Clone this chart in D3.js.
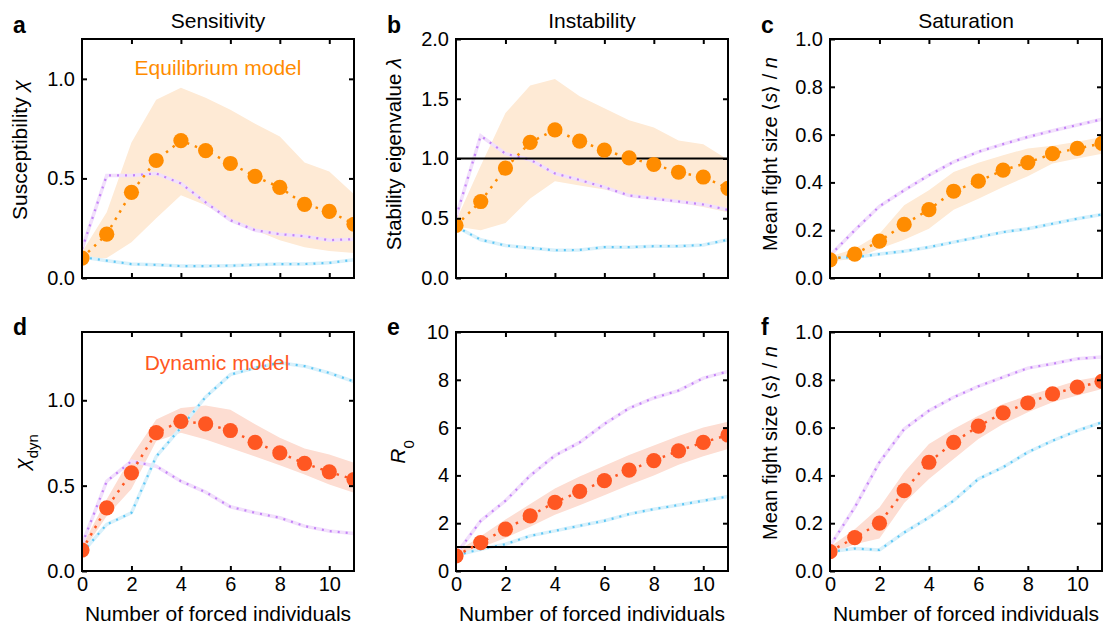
<!DOCTYPE html>
<html>
<head>
<meta charset="utf-8">
<script src="https://cdn.jsdelivr.net/npm/d3@7"></script>
<style>
  body { margin: 0; background: #fff; }
  svg text { font-family: "Liberation Sans", Arial, Helvetica, sans-serif; }
</style>
</head>
<body>
<svg id="chart" width="1104" height="625"></svg>
<script>
// number of forced individuals
const forced = [0, 1, 2, 3, 4, 5, 6, 7, 8, 9, 10, 11];

// a - sensitivity, equilibrium model
const aMean   = [0.10, 0.22, 0.43, 0.59, 0.69, 0.64, 0.575, 0.51, 0.455, 0.37, 0.335, 0.27];
const aLow    = [0.09, 0.10, 0.18, 0.30, 0.415, 0.365, 0.29, 0.24, 0.19, 0.155, 0.135, 0.125];
const aHigh   = [0.13, 0.33, 0.68, 0.895, 0.955, 0.905, 0.845, 0.775, 0.71, 0.58, 0.535, 0.42];
const aPurple = [0.145, 0.515, 0.515, 0.525, 0.475, 0.38, 0.29, 0.24, 0.22, 0.21, 0.19, 0.195];
const aCyan   = [0.105, 0.087, 0.07, 0.066, 0.06, 0.06, 0.062, 0.066, 0.07, 0.07, 0.076, 0.092];

// b - instability, equilibrium model
const bMean   = [0.44, 0.64, 0.92, 1.135, 1.24, 1.145, 1.07, 1.005, 0.95, 0.885, 0.845, 0.75];
const bLow    = [0.43, 0.40, 0.46, 0.665, 0.81, 0.775, 0.74, 0.69, 0.66, 0.63, 0.595, 0.55];
const bHigh   = [0.48, 0.94, 1.38, 1.61, 1.665, 1.52, 1.42, 1.32, 1.26, 1.15, 1.12, 0.99];
const bPurple = [0.51, 1.19, 1.04, 0.99, 0.875, 0.82, 0.76, 0.69, 0.665, 0.64, 0.615, 0.57];
const bCyan   = [0.43, 0.32, 0.272, 0.252, 0.232, 0.235, 0.258, 0.258, 0.266, 0.266, 0.277, 0.32];

// c - saturation, equilibrium model
const cMean   = [0.076, 0.10, 0.154, 0.224, 0.286, 0.363, 0.405, 0.451, 0.483, 0.52, 0.542, 0.563];
const cLow    = [0.07, 0.08, 0.122, 0.16, 0.206, 0.286, 0.332, 0.381, 0.426, 0.479, 0.50, 0.52];
const cHigh   = [0.09, 0.122, 0.185, 0.304, 0.367, 0.444, 0.482, 0.514, 0.542, 0.553, 0.57, 0.59];
const cPurple = [0.094, 0.20, 0.30, 0.367, 0.43, 0.486, 0.528, 0.56, 0.59, 0.616, 0.64, 0.664];
const cCyan   = [0.084, 0.087, 0.10, 0.112, 0.129, 0.15, 0.171, 0.192, 0.206, 0.227, 0.248, 0.266];

// d - sensitivity, dynamic model
const dMean   = [0.123, 0.37, 0.575, 0.81, 0.877, 0.862, 0.823, 0.754, 0.692, 0.63, 0.581, 0.536];
const dLow    = [0.107, 0.322, 0.48, 0.76, 0.81, 0.77, 0.72, 0.67, 0.62, 0.565, 0.507, 0.458];
const dHigh   = [0.146, 0.42, 0.67, 0.887, 0.955, 0.97, 0.945, 0.86, 0.78, 0.717, 0.682, 0.634];
const dPurple = [0.156, 0.526, 0.643, 0.614, 0.526, 0.462, 0.376, 0.341, 0.312, 0.263, 0.234, 0.22];
const dCyan   = [0.107, 0.273, 0.341, 0.67, 0.84, 1.02, 1.15, 1.19, 1.22, 1.2, 1.16, 1.11];

// e - instability, dynamic model
const eMean   = [0.63, 1.19, 1.75, 2.31, 2.87, 3.33, 3.78, 4.22, 4.62, 5.03, 5.38, 5.69];
const eLow    = [0.55, 0.98, 1.38, 1.85, 2.35, 2.75, 3.17, 3.6, 4.0, 4.45, 4.8, 5.1];
const eHigh   = [0.80, 1.45, 2.15, 2.8, 3.45, 3.95, 4.4, 4.85, 5.25, 5.65, 6.0, 6.25];
const ePurple = [0.70, 2.1, 2.94, 3.99, 4.83, 5.38, 6.15, 6.81, 7.24, 7.55, 8.07, 8.35];
const eCyan   = [0.66, 0.91, 1.12, 1.47, 1.68, 1.89, 2.1, 2.38, 2.59, 2.76, 2.94, 3.12];

// f - saturation, dynamic model
const fMean   = [0.081, 0.14, 0.20, 0.336, 0.455, 0.538, 0.606, 0.662, 0.703, 0.741, 0.769, 0.793];
const fLow    = [0.07, 0.112, 0.136, 0.284, 0.385, 0.469, 0.552, 0.615, 0.664, 0.706, 0.734, 0.762];
const fHigh   = [0.10, 0.175, 0.266, 0.413, 0.531, 0.594, 0.65, 0.699, 0.734, 0.765, 0.797, 0.815];
const fPurple = [0.105, 0.266, 0.455, 0.594, 0.671, 0.727, 0.773, 0.811, 0.849, 0.867, 0.888, 0.895];
const fCyan   = [0.08, 0.094, 0.088, 0.161, 0.224, 0.294, 0.385, 0.434, 0.497, 0.545, 0.587, 0.622];

const xTicks = [2, 4, 6, 8, 10];
const xTickLabels = [0, 2, 4, 6, 8, 10];

const eqColor = "#ff8c00", eqBand = "#feead5";
const dynColor = "#ff5722", dynBand = "#fdddd2";

const panels = [
  {id: "a", left: 82,  top: 39,  ymax: 1.2, yticks: [0, 0.5, 1.0], fmt: ".1f", mean: aMean, low: aLow, high: aHigh, purple: aPurple, cyan: aCyan, dot: eqColor, band: eqBand, title: "Sensitivity"},
  {id: "b", left: 456, top: 39,  ymax: 2.0, yticks: [0, 0.5, 1.0, 1.5, 2.0], fmt: ".1f", mean: bMean, low: bLow, high: bHigh, purple: bPurple, cyan: bCyan, dot: eqColor, band: eqBand, title: "Instability", hline: 1},
  {id: "c", left: 830, top: 39,  ymax: 1.0, yticks: [0, 0.2, 0.4, 0.6, 0.8, 1.0], fmt: ".1f", mean: cMean, low: cLow, high: cHigh, purple: cPurple, cyan: cCyan, dot: eqColor, band: eqBand, title: "Saturation"},
  {id: "d", left: 82,  top: 332, ymax: 1.4, yticks: [0, 0.5, 1.0], fmt: ".1f", mean: dMean, low: dLow, high: dHigh, purple: dPurple, cyan: dCyan, dot: dynColor, band: dynBand, bottomRow: true},
  {id: "e", left: 456, top: 332, ymax: 10, yticks: [0, 2, 4, 6, 8, 10], fmt: "d", mean: eMean, low: eLow, high: eHigh, purple: ePurple, cyan: eCyan, dot: dynColor, band: dynBand, bottomRow: true, hline: 1},
  {id: "f", left: 830, top: 332, ymax: 1.0, yticks: [0, 0.2, 0.4, 0.6, 0.8, 1.0], fmt: ".1f", mean: fMean, low: fLow, high: fHigh, purple: fPurple, cyan: fCyan, dot: dynColor, band: dynBand, bottomRow: true}
];

const plotW = 272;
const plotH = 239;

let svg = d3.select("#chart");

panels.forEach(function(p) {
  let x = d3.scaleLinear().domain([0, 11]).range([0, plotW]);
  let y = d3.scaleLinear().domain([0, p.ymax]).range([plotH, 0]);

  let g = svg.append("g")
      .attr("transform", "translate(" + p.left + "," + p.top + ")");

  g.append("clipPath")
      .attr("id", "clip-" + p.id)
    .append("rect")
      .attr("width", plotW)
      .attr("height", plotH);

  let plot = g.append("g").attr("clip-path", "url(#clip-" + p.id + ")");

  let rows = forced.map(function(v, i) {
    return {x: v, mean: p.mean[i], low: p.low[i], high: p.high[i], purple: p.purple[i], cyan: p.cyan[i]};
  });

  // uncertainty band
  plot.append("path")
      .datum(rows)
      .attr("fill", p.band)
      .attr("d", d3.area()
          .x(function(d) { return x(d.x); })
          .y0(function(d) { return y(d.low); })
          .y1(function(d) { return y(d.high); }));

  // purple and cyan reference curves: faint line with dots on top
  [["purple", "#f2e0fc", "#c383f7"], ["cyan", "#d9f1fb", "#5cc6f4"]].forEach(function(s) {
    let line = d3.line()
        .x(function(d) { return x(d.x); })
        .y(function(d) { return y(d[s[0]]); });
    plot.append("path")
        .datum(rows)
        .attr("fill", "none")
        .attr("stroke", s[1])
        .attr("stroke-width", 3.5)
        .attr("d", line);
    plot.append("path")
        .datum(rows)
        .attr("fill", "none")
        .attr("stroke", s[2])
        .attr("stroke-width", 2.2)
        .attr("stroke-dasharray", "2,6")
        .attr("d", line);
  });

  if (p.hline !== undefined) {
    plot.append("line")
        .attr("x1", 0)
        .attr("x2", plotW)
        .attr("y1", y(p.hline))
        .attr("y2", y(p.hline))
        .attr("stroke", "#000")
        .attr("stroke-width", 2);
  }

  // mean: dotted line + big dots
  plot.append("path")
      .datum(rows)
      .attr("fill", "none")
      .attr("stroke", p.dot)
      .attr("stroke-width", 2.5)
      .attr("stroke-dasharray", "2.5,6")
      .attr("d", d3.line()
          .x(function(d) { return x(d.x); })
          .y(function(d) { return y(d.mean); }));

  plot.selectAll("circle")
      .data(rows)
      .enter()
      .append("circle")
        .attr("cx", function(d) { return x(d.x); })
        .attr("cy", function(d) { return y(d.mean); })
        .attr("r", 7.6)
        .attr("fill", p.dot);

  // axes, ticks point inward
  let fmt = d3.format(p.fmt);
  let left = g.append("g")
      .call(d3.axisLeft(y).tickValues(p.yticks).tickFormat(fmt).tickSizeInner(-5).tickSizeOuter(0).tickPadding(7));
  let right = g.append("g")
      .attr("transform", "translate(" + plotW + ",0)")
      .call(d3.axisRight(y).tickValues(p.yticks.filter(function(v) { return v > 0 && v < p.ymax; })).tickFormat("").tickSizeInner(-5).tickSizeOuter(0));
  let top = g.append("g")
      .call(d3.axisTop(x).tickValues(xTicks).tickFormat("").tickSizeInner(-5).tickSizeOuter(0));
  let bottom = g.append("g")
      .attr("transform", "translate(0," + plotH + ")")
      .call(d3.axisBottom(x).tickValues(p.bottomRow ? xTickLabels : xTicks)
          .tickFormat(p.bottomRow ? d3.format("d") : "")
          .tickSizeInner(-5).tickSizeOuter(0).tickPadding(6));

  [left, right, top, bottom].forEach(function(a) {
    a.select(".domain").remove();
    a.selectAll("line").attr("stroke", "#000").attr("stroke-width", 2);
    a.selectAll("text").attr("fill", "#000").style("font-size", "20px");
  });
  bottom.selectAll(".tick line").filter(function(d) { return d === 0; }).remove();

  g.append("rect")
      .attr("width", plotW)
      .attr("height", plotH)
      .attr("fill", "none")
      .attr("stroke", "#000")
      .attr("stroke-width", 2);

  // panel letter
  g.append("text")
      .attr("x", -69)
      .attr("y", p.bottomRow ? 3 : -6)
      .style("font-size", "23px")
      .style("font-weight", "bold")
      .text(p.id);

  if (p.title) {
    g.append("text")
        .attr("x", plotW / 2)
        .attr("y", -11)
        .attr("text-anchor", "middle")
        .style("font-size", "21px")
        .text(p.title);
  }

  if (p.bottomRow) {
    g.append("text")
        .attr("x", plotW / 2)
        .attr("y", plotH + 50)
        .attr("text-anchor", "middle")
        .style("font-size", "21px")
        .text("Number of forced individuals");
  }
});

// y axis labels
function yLabel(cx, cy, parts, size) {
  let t = svg.append("text")
      .attr("transform", "translate(" + cx + "," + cy + ") rotate(-90)")
      .attr("text-anchor", "middle")
      .style("font-size", (size || 20) + "px");
  parts.forEach(function(s) {
    let ts = t.append("tspan").text(s.t);
    if (s.i) ts.style("font-style", "italic");
    if (s.sub) ts.attr("baseline-shift", "sub").style("font-size", "15px");
  });
  return t;
}

yLabel(27, 150, [{t: "Susceptibility "}, {t: "χ", i: true}], 21);
yLabel(401, 154, [{t: "Stability eigenvalue "}, {t: "λ", i: true}], 20.5);
yLabel(777, 154, [{t: "Mean fight size ⟨"}, {t: "s", i: true}, {t: "⟩ / "}, {t: "n", i: true}], 20);
yLabel(29, 452, [{t: "χ", i: true}, {t: "dyn", sub: true}], 21);
yLabel(405, 452, [{t: "R", i: true}, {t: "0", sub: true}], 21);
yLabel(777, 443, [{t: "Mean fight size ⟨"}, {t: "s", i: true}, {t: "⟩ / "}, {t: "n", i: true}], 20);

// model annotations
svg.append("text")
    .attr("x", 218)
    .attr("y", 75)
    .attr("text-anchor", "middle")
    .attr("fill", eqColor)
    .style("font-size", "21px")
    .text("Equilibrium model");

svg.append("text")
    .attr("x", 217)
    .attr("y", 370)
    .attr("text-anchor", "middle")
    .attr("fill", dynColor)
    .style("font-size", "21px")
    .text("Dynamic model");
</script>
</body>
</html>
